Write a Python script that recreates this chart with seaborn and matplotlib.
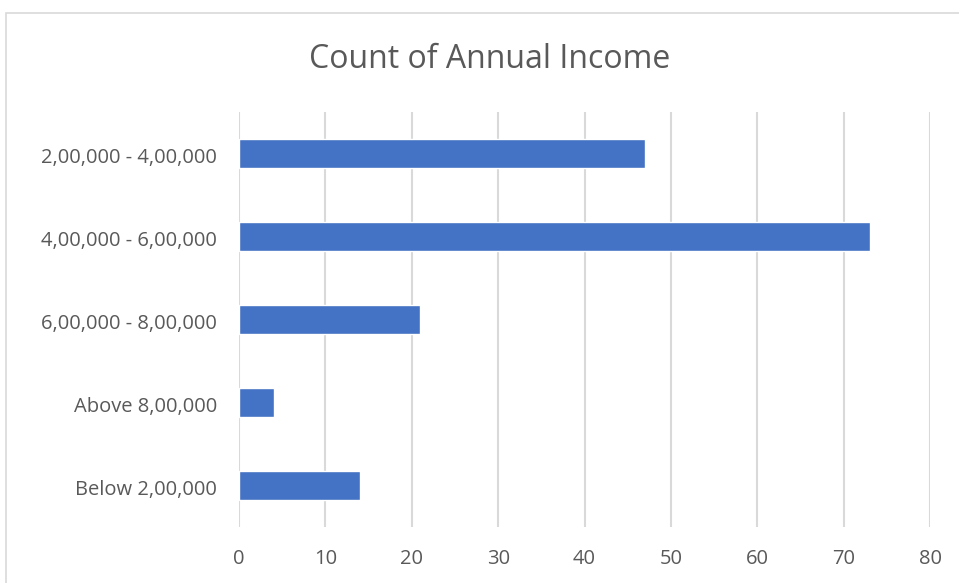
import matplotlib
matplotlib.use("Agg")
import matplotlib.pyplot as plt
import matplotlib.transforms as mtransforms
import seaborn as sns
import pandas as pd
from matplotlib.patches import Rectangle

categories = ["2,00,000 - 4,00,000", "4,00,000 - 6,00,000", "6,00,000 - 8,00,000",
              "Above 8,00,000", "Below 2,00,000"]
counts = [47, 73, 21, 4, 14]
xticks = [0, 10, 20, 30, 40, 50, 60, 70, 80]

df = pd.DataFrame({"Income": categories, "Count": counts})

sns.set_theme(style="white")
plt.rcParams["font.family"] = ["Open Sans", "DejaVu Sans"]

W, H = 959, 583
fig = plt.figure(figsize=(W / 100, H / 100), dpi=100)
ax = fig.add_axes([239 / W, 1 - 527 / H, (930 - 239) / W, (527 - 112) / H])

sns.barplot(data=df, y="Income", x="Count", orient="h", color="#4472C4",
            saturation=1, width=0.35, ax=ax, zorder=3)

ax.set_xlim(0, 80)
ax.set_xticks(xticks)
ax.set_xticklabels([str(t) for t in xticks])
ax.set_ylim(4.5, -0.5)
ax.grid(axis="x", color="#d9d9d9", linewidth=1.5, zorder=0)
ax.grid(axis="y", visible=False)
for s in ax.spines.values():
    s.set_visible(False)
ax.set_xlabel("")
ax.set_ylabel("")
ax.tick_params(axis="both", length=0, labelsize=14.5, colors="#595959")
ax.tick_params(axis="x", pad=16)
ax.tick_params(axis="y", pad=16)
offset = mtransforms.ScaledTranslation(0, -2 / 100, fig.dpi_scale_trans)
for lbl in ax.get_yticklabels():
    lbl.set_transform(lbl.get_transform() + offset)

fig.text(490 / W, 1 - 60 / H, "Count of Annual Income", ha="center", va="center",
         fontsize=23, color="#595959")

fig.patches.append(Rectangle((6 / W, -0.1), 1.2, 1 - 13 / H + 0.1, transform=fig.transFigure,
                             fill=False, edgecolor="#d9d9d9", linewidth=1.2))

fig.savefig("out.png", dpi=100, facecolor="white")
